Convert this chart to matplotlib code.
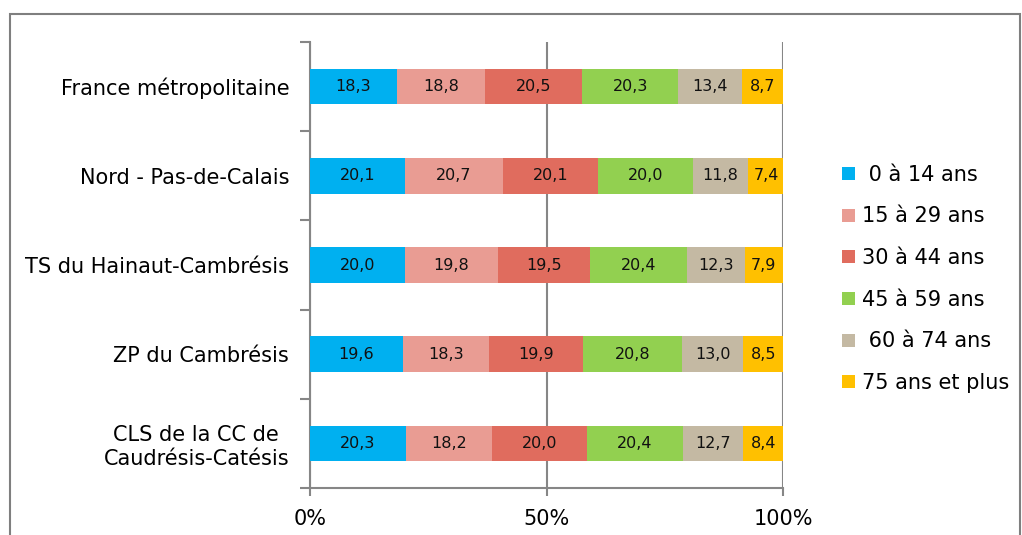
import numpy as np
import matplotlib.pyplot as plt
from matplotlib.patches import Rectangle

CATEGORIES = [
    "France métropolitaine",
    "Nord - Pas-de-Calais",
    "TS du Hainaut-Cambrésis",
    "ZP du Cambrésis",
    "CLS de la CC de\nCaudrésis-Catésis",
]

AGE_GROUPS = [" 0 à 14 ans", "15 à 29 ans", "30 à 44 ans", "45 à 59 ans", " 60 à 74 ans", "75 ans et plus"]

# one list per age group, in category order
AGE_0_14 = [18.3, 20.1, 20.0, 19.6, 20.3]
AGE_15_29 = [18.8, 20.7, 19.8, 18.3, 18.2]
AGE_30_44 = [20.5, 20.1, 19.5, 19.9, 20.0]
AGE_45_59 = [20.3, 20.0, 20.4, 20.8, 20.4]
AGE_60_74 = [13.4, 11.8, 12.3, 13.0, 12.7]
AGE_75_PLUS = [8.7, 7.4, 7.9, 8.5, 8.4]

COLORS = ["#00B0F0", "#E99C93", "#E06C5E", "#92D050", "#C4B9A3", "#FFC000"]

GRID = "#868686"

fig = plt.figure(figsize=(10.22, 5.35), dpi=100)
ax = fig.add_axes([310 / 1022, 47 / 535, 473 / 1022, 446 / 535])

series = [AGE_0_14, AGE_15_29, AGE_30_44, AGE_45_59, AGE_60_74, AGE_75_PLUS]
y = np.arange(len(CATEGORIES))
left = np.zeros(len(CATEGORIES))

for label, vals, color in zip(AGE_GROUPS, series, COLORS):
    vals = np.array(vals)
    ax.barh(y, vals, left=left, height=0.4, color=color, label=label,
            edgecolor="none", zorder=3)
    for yi, l, v in zip(y, left, vals):
        ax.text(l + v / 2, yi, f"{v:.1f}".replace(".", ","), ha="center",
                va="center", fontsize=11.5, color="#111111", zorder=4)
    left = left + vals

ax.set_xlim(0, 100)
ax.set_ylim(len(CATEGORIES) - 0.5, -0.5)

ax.set_xticks([0, 50, 100])
ax.set_xticklabels(["0%", "50%", "100%"], fontsize=15)
ax.tick_params(axis="x", length=6, width=1.5, color=GRID, pad=9)

ax.set_yticks(y)
ax.set_yticklabels(CATEGORIES, fontsize=15, linespacing=1.25)
ax.set_yticks(np.arange(len(CATEGORIES) + 1) - 0.5, minor=True)
ax.tick_params(axis="y", which="major", length=0, pad=15)
ax.tick_params(axis="y", which="minor", length=7, width=1.5, color=GRID)
for lbl in ax.get_yticklabels():
    lbl.set_multialignment("center")

ax.xaxis.grid(True, color=GRID, linewidth=1.5, zorder=1)
for side in ["top", "right"]:
    ax.spines[side].set_visible(False)
for side in ["left", "bottom"]:
    ax.spines[side].set_color(GRID)
    ax.spines[side].set_linewidth(1.5)

ax.legend(loc="center left", bbox_to_anchor=(842 / 1022, (535 - 279) / 535),
          bbox_transform=fig.transFigure, frameon=False, fontsize=15,
          handlelength=0.6, handleheight=0.6, handletextpad=0.35,
          labelspacing=1.04, borderaxespad=0, borderpad=0)

# outer chart frame
fig.patches.append(Rectangle((10 / 1022, -0.1), 1010 / 1022, 1.1 - 14 / 535,
                             transform=fig.transFigure, fill=False,
                             edgecolor="#7f7f7f", linewidth=1.5))

fig.savefig("out.png", dpi=100)
